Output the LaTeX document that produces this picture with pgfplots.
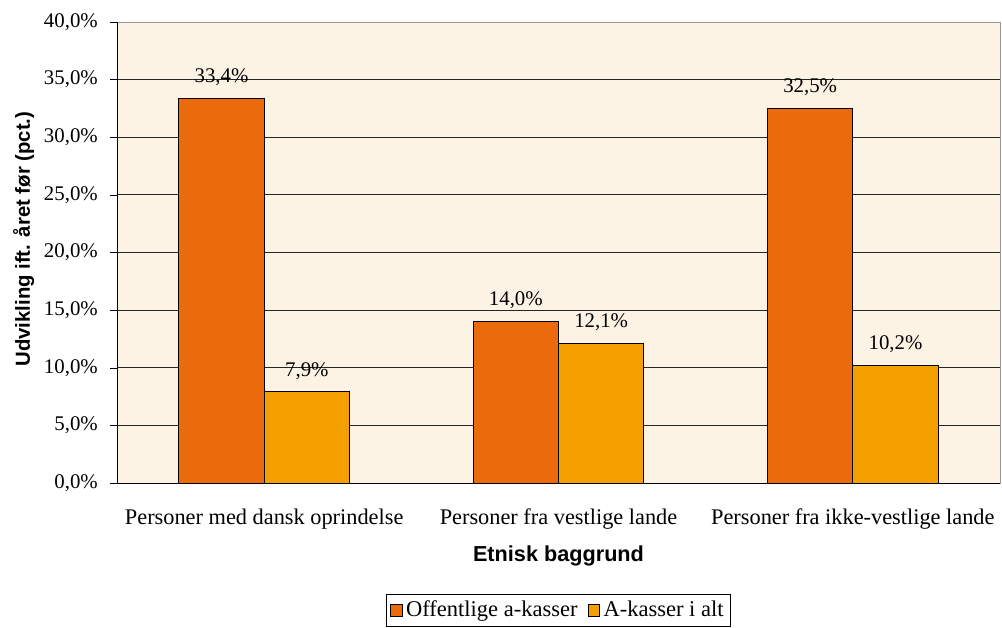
\documentclass[border=0pt]{standalone}
\usepackage{pgfplots}
\pgfplotsset{compat=1.18}
\usepackage{fontspec}
\setmainfont{Liberation Serif}
\setsansfont{Liberation Sans}
\definecolor{bgfill}{HTML}{FDF3E5}
\definecolor{offorange}{HTML}{EA6A0C}
\definecolor{altorange}{HTML}{F4A000}

\begin{document}
\begin{tikzpicture}
\begin{axis}[
    scale only axis, width=529.8pt, height=276.6pt,
    ybar, bar width=0.29,
    xmin=-0.5, xmax=2.5, ymin=0, ymax=40,
    axis background/.style={fill=bgfill},
    axis line style={draw=gray!80},
    xtick={0,1,2},
    xticklabels={Personer med dansk oprindelse, Personer fra vestlige lande, Personer fra ikke-vestlige lande},
    major x tick style={draw=none},
    extra x ticks={-0.5,0.5,1.5,2.5}, extra x tick labels={},
    extra x tick style={tick style={draw=black}, major tick length=5pt, tick pos=bottom, tick align=outside},
    ytick={0,5,...,40},
    yticklabel={\pgfmathprintnumber[fixed,fixed zerofill,precision=1,use comma]{\tick}\%},
    /pgf/number format/assume math mode=true,
    tick pos=left, tick align=outside, major tick length=4pt,
    ytick style={draw=black},
    ymajorgrids, grid style={draw=black!85, line width=0.5pt},
    yticklabel style={font=\fontsize{12.5}{14}\selectfont, xshift=-4pt},
    xticklabel style={font=\fontsize{13.4}{15}\selectfont, yshift=-8pt},
    xlabel={\sffamily\bfseries Etnisk baggrund},
    ylabel={\sffamily\bfseries Udvikling ift. året før (pct.)},
    xlabel style={font=\fontsize{13}{15}\selectfont, yshift=6pt},
    ylabel style={font=\fontsize{12.2}{14}\selectfont, yshift=-1pt, xshift=8pt},
    nodes near coords={\pgfmathprintnumber[fixed,fixed zerofill,precision=1,use comma]{\pgfplotspointmeta}\%},
    every node near coord/.append style={font=\fontsize{12.5}{14}\selectfont, color=black, yshift=4pt},
    legend style={at={(0.5,-0.2408)}, anchor=north, legend columns=2, draw=black,
        font=\fontsize{13.5}{15}\selectfont, inner sep=2pt,
        /tikz/every even column/.append style={column sep=4pt}},
    legend image code/.code={\draw[#1, draw=black] (0pt,-3.5pt) rectangle (7pt,3.5pt);},
]
\addplot[fill=offorange, draw=black, line width=0.6pt, bar shift=-0.145] coordinates {(0,33.4) (1,14.0) (2,32.5)};
\addplot[fill=altorange, draw=black, line width=0.6pt, bar shift=0.145] coordinates {(0,7.9) (1,12.1) (2,10.2)};
\legend{Offentlige a-kasser, A-kasser i alt}
\draw[black, line width=0.6pt] (rel axis cs:0,1) -- (rel axis cs:0,0) -- (rel axis cs:1,0);
\coordinate (bbl) at (rel axis cs:-0.1325,-0.3145);
\coordinate (btr) at (rel axis cs:1.00226,1.0477);
\end{axis}
\pgfresetboundingbox
\path (bbl) rectangle (btr);
\end{tikzpicture}
\end{document}
